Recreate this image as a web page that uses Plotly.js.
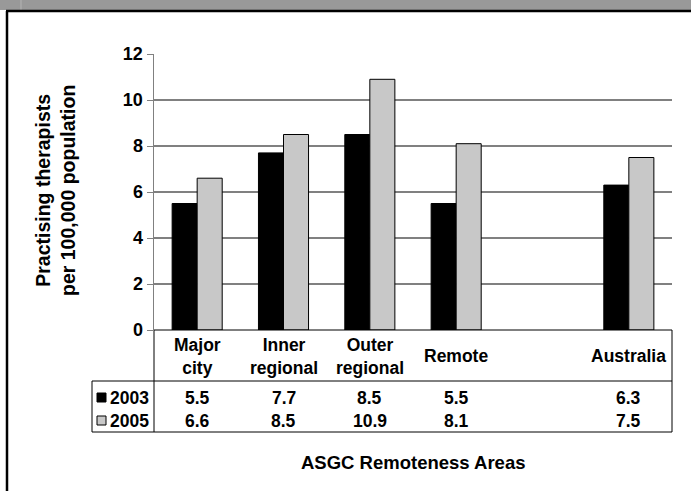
<!DOCTYPE html>
<html>
<head>
<meta charset="utf-8">
<script src="https://cdn.plot.ly/plotly-3.0.1.min.js"></script>
<style>html,body{margin:0;padding:0;background:#fff;}#chart{width:691px;height:491px;}</style>
</head>
<body>
<div id="chart"></div>
<script>
// ---- data ----
const categories = ["Major city", "Inner regional", "Outer regional", "Remote", "", "Australia"];
const categoryLabels = ["Major<br>city", "Inner<br>regional", "Outer<br>regional", "Remote", "", "Australia"];
const series2003 = [5.5, 7.7, 8.5, 5.5, null, 6.3];
const series2005 = [6.6, 8.5, 10.9, 8.1, null, 7.5];
const seriesNames = ["2003", "2005"];
const yTickVals = [0, 2, 4, 6, 8, 10, 12];
const yTitle = "Practising therapists<br>per 100,000 population";
const xTitle = "ASGC Remoteness Areas";

// ---- layout helpers (pixel -> paper) ----
const L = 154, R = 672, T = 54, B = 330;
const W = 691, H = 491;
const px = x => (x - L) / (R - L);
const py = y => (B - y) / (B - T);

const FONT = "Liberation Sans, Arial, sans-serif";
const xIdx = categories.map((c, i) => i);

const colors = ["#000000", "#c8c8c8"];
const traces = [series2003, series2005].map((vals, k) => ({
  type: "bar",
  name: seriesNames[k],
  x: xIdx,
  y: vals,
  marker: {color: colors[k], line: {color: "#000", width: 1}},
  hoverinfo: "skip"
}));

const annotations = [];
const fnt = {family: FONT, size: 17.5, color: "#000"};
// category label row
categoryLabels.forEach((lab, i) => {
  if (!lab) return;
  annotations.push({x: i, xref: "x", y: py(356), yref: "paper", text: "<b>" + lab.replace("<br>", "</b><br><b>") + "</b>",
    showarrow: false, font: fnt, xanchor: "center", yanchor: "middle", align: "center"});
});
// value rows
const rowY = [py(398), py(421)];
[series2003, series2005].forEach((vals, k) => {
  vals.forEach((v, i) => {
    if (v === null) return;
    annotations.push({x: i, xref: "x", y: rowY[k], yref: "paper", text: "<b>" + v.toFixed(1) + "</b>",
      showarrow: false, font: fnt, xanchor: "center", yanchor: "middle"});
  });
  annotations.push({x: px(151), xref: "paper", y: rowY[k], yref: "paper", text: "<b>" + seriesNames[k] + "</b>",
    showarrow: false, font: fnt, xanchor: "right", yanchor: "middle"});
});
// axis titles
annotations.push({x: px(55), xref: "paper", y: py(191), yref: "paper",
  text: "<b>" + yTitle.replace("<br>", "</b><br><b>") + "</b>", textangle: -90,
  showarrow: false, font: {family: FONT, size: 19.5, color: "#000"}, xanchor: "center", yanchor: "middle"});
annotations.push({x: px(413), xref: "paper", y: py(462), yref: "paper", text: "<b>" + xTitle + "</b>",
  showarrow: false, font: {family: FONT, size: 18.5, color: "#000"}, xanchor: "center", yanchor: "middle"});

const line = (x0, y0, x1, y1, color, width) => ({type: "line", xref: "paper", yref: "paper",
  x0: px(x0), y0: py(y0), x1: px(x1), y1: py(y1), line: {color: color, width: width}});
const rect = (x0, y0, x1, y1, fill, lc, lw) => ({type: "rect", xref: "paper", yref: "paper",
  x0: px(x0), y0: py(y0), x1: px(x1), y1: py(y1), fillcolor: fill, line: {color: lc, width: lw}, layer: "above"});

const shapes = [
  // header band
  rect(-2, -2, W + 4, 10, "#999999", "rgba(0,0,0,0)", 0),
  line(21, 0, 21, 10, "#b4b4b4", 1),
  line(6, 11, W + 4, 11, "#000", 2.5),
  line(7, 11, 7, H + 4, "#000", 2.5),
  // table lines
  line(L, B, R, B, "#000", 1),
  line(L, B, L, 432, "#000", 1),
  line(R, B, R, 432, "#000", 1),
  line(92, 381, R, 381, "#000", 1),
  line(92, 381, 92, 432, "#000", 1),
  line(92, 432, R, 432, "#000", 1),
  // legend keys
  rect(97, 393, 106, 402, "#000000", "#000", 1),
  rect(97, 416, 106, 425, "#c8c8c8", "#000", 1)
];

const layout = {
  width: W, height: H,
  margin: {l: L, r: W - R, t: T, b: H - B, pad: 0},
  paper_bgcolor: "#fff", plot_bgcolor: "#fff",
  showlegend: false,
  barmode: "group", bargap: 0.42, bargroupgap: 0,
  font: {family: FONT, color: "#000"},
  xaxis: {type: "linear", range: [-0.5, 5.5], showticklabels: false, ticks: "", showgrid: false,
    zeroline: false, showline: false, fixedrange: true},
  yaxis: {range: [0, 12], tickvals: yTickVals, ticktext: yTickVals.map(v => "<b>" + v + "</b>"),
    ticks: "outside", ticklen: 6, tickwidth: 1, tickcolor: "#808080",
    showline: true, linecolor: "#808080", linewidth: 1.5, showgrid: true, gridcolor: "#808080", gridwidth: 1.5,
    zeroline: false, tickfont: {family: FONT, size: 18, color: "#000"}, fixedrange: true},
  annotations: annotations,
  shapes: shapes
};

Plotly.newPlot("chart", traces, layout, {staticPlot: true, displayModeBar: false});
</script>
</body>
</html>
